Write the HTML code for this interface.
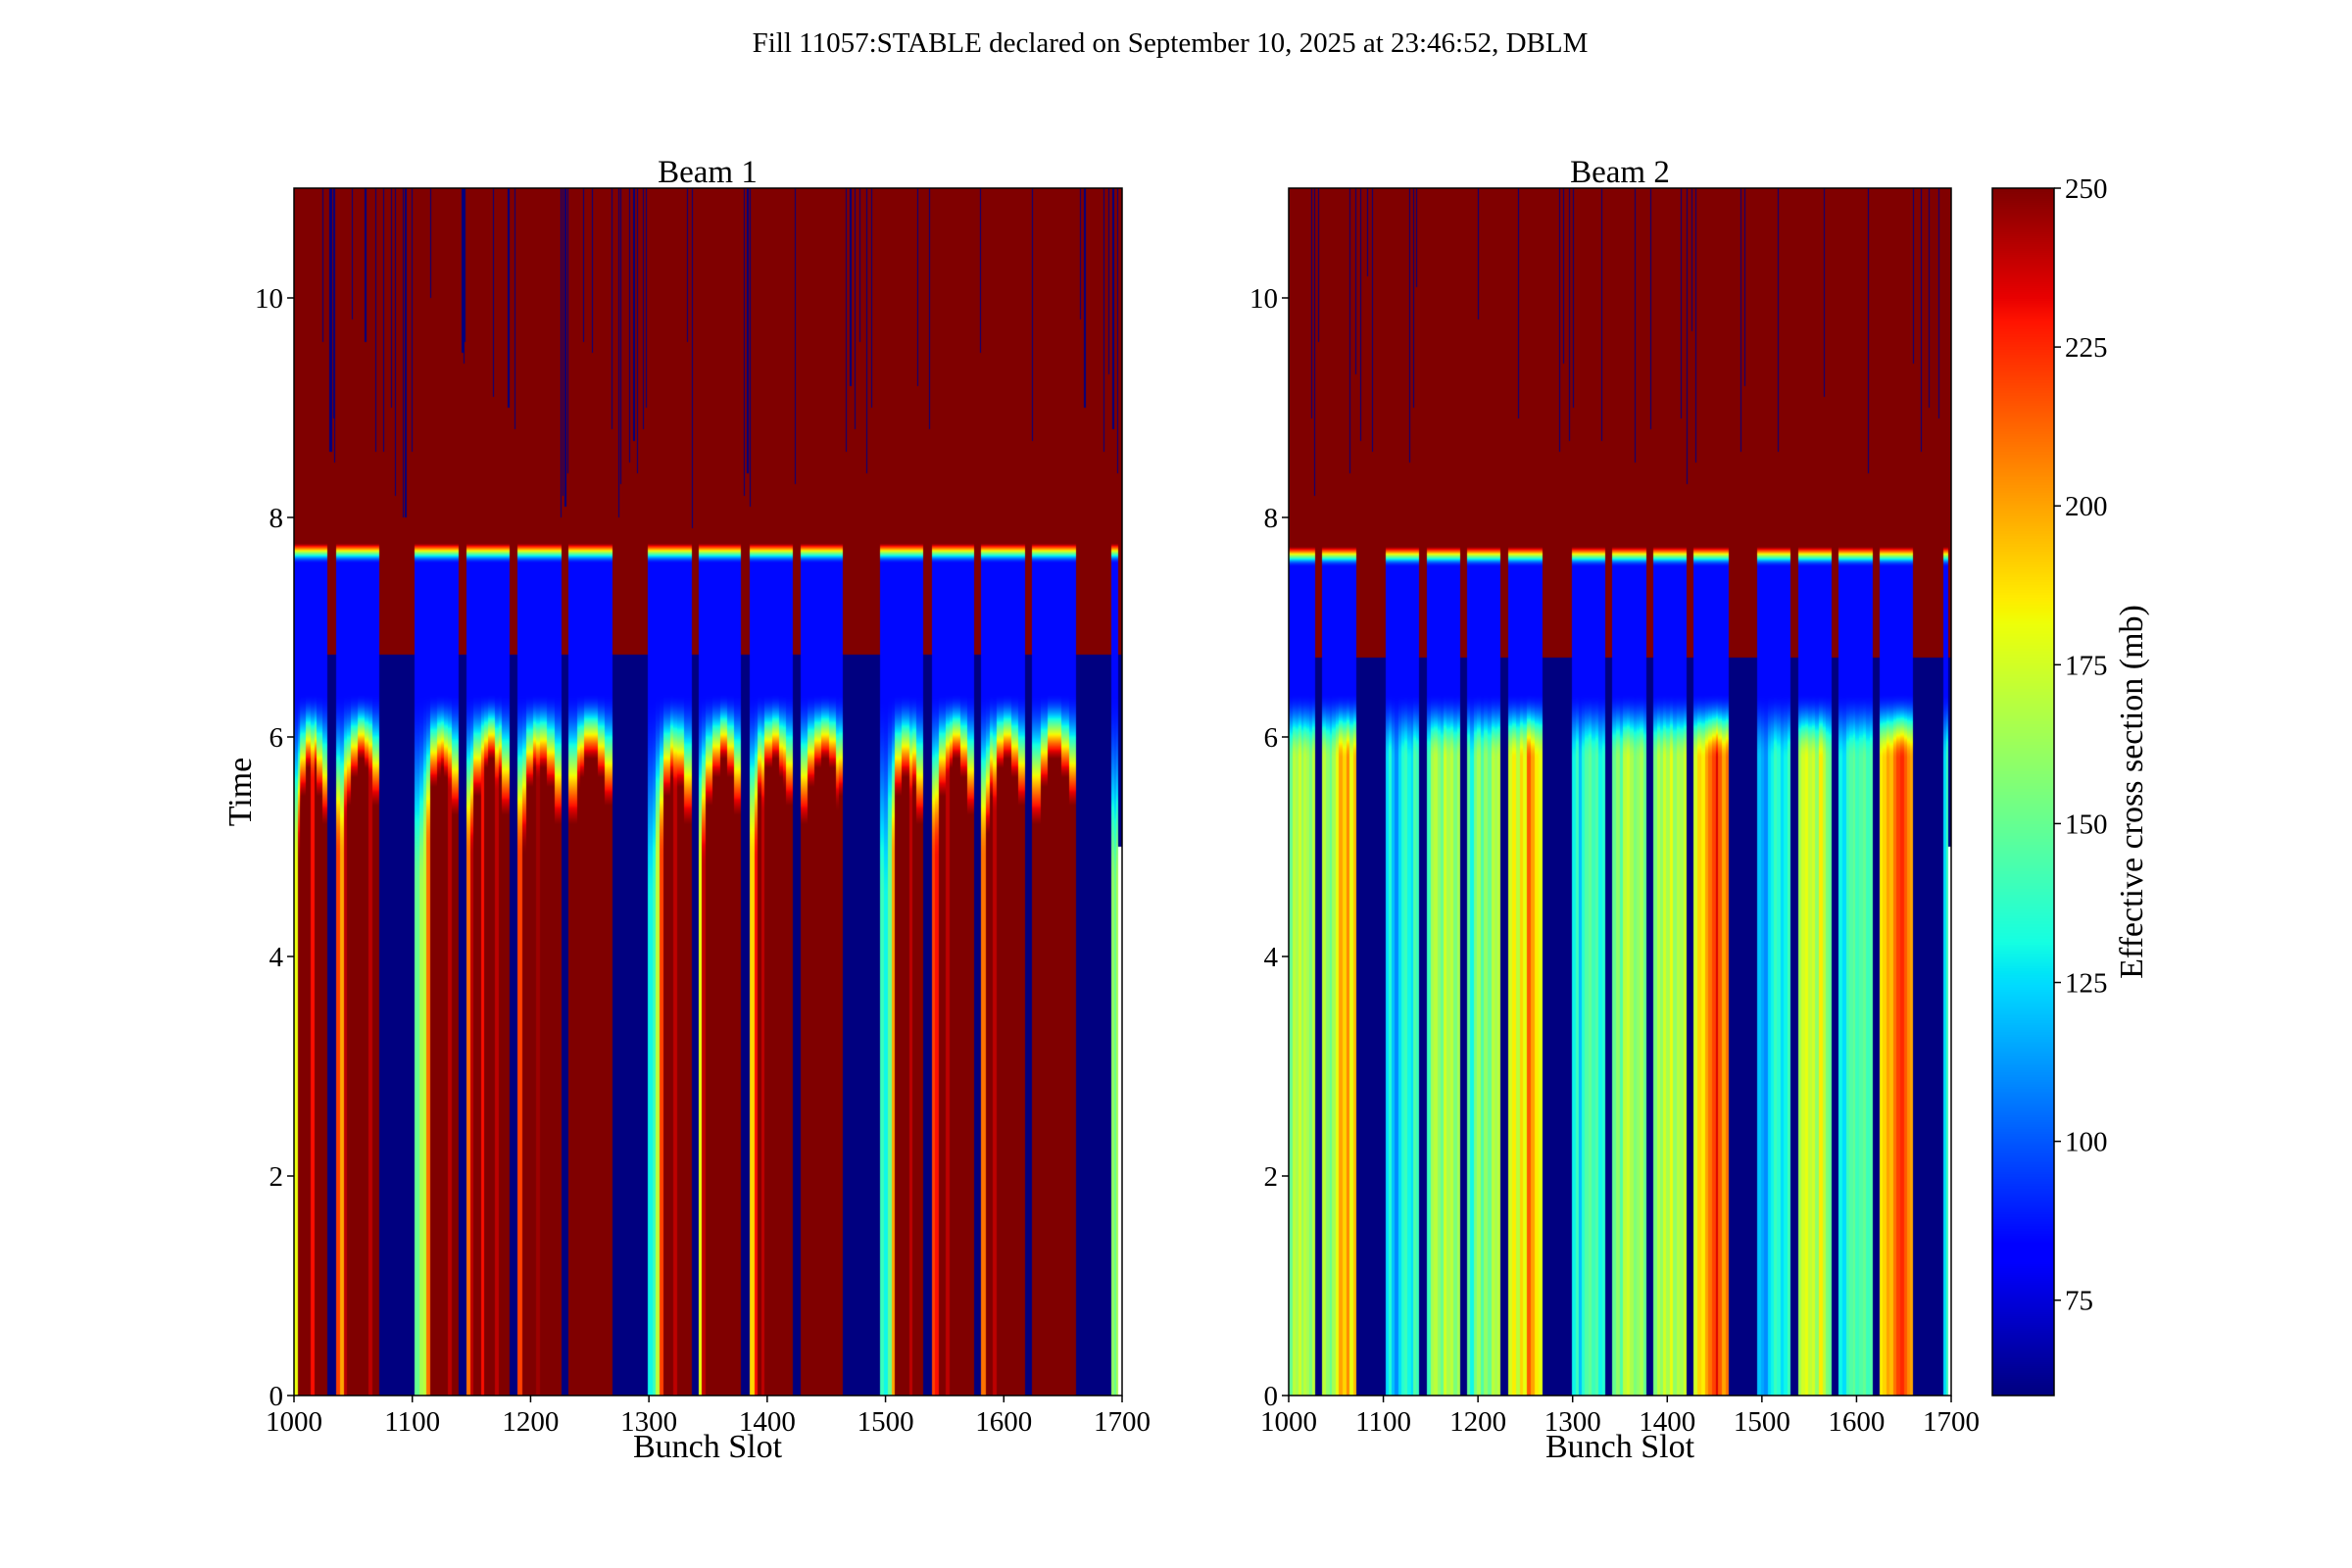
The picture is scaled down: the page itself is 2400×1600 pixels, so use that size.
<!DOCTYPE html>
<html><head><meta charset="utf-8"><style>
html,body{margin:0;padding:0;background:#fff;}
#root{position:relative;width:2400px;height:1600px;overflow:hidden;font-family:"Liberation Serif",serif;}
canvas{position:absolute;}
svg{position:absolute;left:0;top:0;}
</style></head><body>
<div id="root">
<canvas id="c1" style="left:300px;top:192px" width="845" height="1232"></canvas>
<canvas id="c2" style="left:1315px;top:192px" width="676" height="1232"></canvas>
<canvas id="cb" style="left:2033px;top:192px" width="63" height="1232"></canvas>
<svg id="ov" width="2400" height="1600" font-family="Liberation Serif, serif" fill="#000">
<text x="1194" y="53" font-size="29" text-anchor="middle">Fill 11057:STABLE declared on September 10, 2025 at 23:46:52, DBLM</text>
<text x="722" y="186" font-size="33" text-anchor="middle">Beam 1</text>
<text x="1653" y="186" font-size="33" text-anchor="middle">Beam 2</text>
<text x="722" y="1487" font-size="34" text-anchor="middle">Bunch Slot</text>
<text x="1653" y="1487" font-size="34" text-anchor="middle">Bunch Slot</text>
<text x="0" y="0" font-size="34" text-anchor="middle" transform="translate(256,808) rotate(-90)">Time</text>
<text x="0" y="0" font-size="34" text-anchor="middle" transform="translate(2186,808) rotate(-90)">Effective cross section (mb)</text>
</svg>
</div>
<script>
// ---- data ----
const b1TrainStart=[1000,1036,1102,1146,1189,1232,1299,1342,1385,1428,1495,1539,1581,1624,1691];
const b1TrainEnd=[1028,1072,1139,1182,1226,1269,1336,1378,1422,1464,1532,1575,1618,1661,1697];
const b2TrainStart=[1000,1035,1102,1146,1188,1232,1299,1342,1385,1428,1495,1538,1581,1624,1692];
const b2TrainEnd=[1028,1071,1138,1181,1224,1268,1334,1378,1420,1465,1530,1574,1617,1660,1697];
const b1Base=[
[180,250,260,260,260,230,260,260,260,260],
[220,200,240,260,260,260,260,260,260,240,260,260],
[150,165,170,210,260,260,250,260,260,240,260,260],
[210,240,260,260,230,260,260,260,240,260,260,260],
[220,250,260,260,260,245,260,260,260,260,260,260],
[260,260,250,260,260,260,260,260,260,260,260,260],
[130,140,170,220,260,260,260,240,260,260,260,260],
[180,240,260,260,260,260,260,260,260,260,260,260],
[190,230,260,240,260,260,260,260,260,250,260,260],
[260,260,260,260,260,260,260,260,260,260,250,260],
[140,130,150,200,260,260,260,260,240,260,260,260],
[220,230,260,260,240,260,260,260,260,260,260,260],
[210,260,260,240,260,260,260,260,260,260,260,260],
[260,260,260,260,260,260,260,260,260,260,260,260],
[160,150,165]];
const b1Fade=[
[4.8,5.3,5.6,5.6,5.3,5.0],
[4.9,5.2,5.5,5.7,5.6,5.2],
[4.6,5.0,5.4,5.6,5.5,5.1],
[4.9,5.3,5.6,5.7,5.5,5.1],
[4.9,5.4,5.6,5.6,5.4,5.0],
[5.0,5.5,5.7,5.7,5.5,5.2],
[4.5,4.9,5.3,5.5,5.4,5.0],
[4.8,5.2,5.5,5.7,5.5,5.1],
[4.9,5.3,5.6,5.7,5.5,5.2],
[5.0,5.4,5.6,5.7,5.6,5.3],
[4.5,4.9,5.3,5.5,5.4,5.0],
[4.9,5.3,5.6,5.7,5.5,5.1],
[4.9,5.3,5.6,5.7,5.5,5.2],
[5.0,5.4,5.7,5.7,5.5,5.2],
[4.6,4.6]];
const b2Base=[
[150,170,165,175,160,170,165,155,170],
[170,160,150,165,180,200,190,205,180,195],
[125,135,120,110,125,135,140,130,125,145,140],
[140,165,170,160,150,175,165,170,155,165],
[150,130,155,165,145,160,150,170,165,170],
[175,185,170,190,180,215,200,185,180],
[130,140,120,135,145,150,140,145,130,135],
[150,160,145,170,175,165,155,160,165,150],
[155,170,160,175,165,180,160,170,165,175],
[175,190,185,200,210,220,235,215,200,210],
[120,115,110,125,130,140,135,125,130,140],
[165,175,180,170,175,160,185,170,155,150],
[130,125,140,145,150,140,145,150,140,145],
[185,190,200,195,210,220,225,215,205,200],
[125,140]];
const b1SpikeSlots=[1024,1030,1031,1033,1034,1049,1060,1069,1075,1082,1085,1092,1094,1099,1115,1142,1143,1144,1168,1181,1186,1225,1227,1229,1231,1244,1252,1268,1274,1276,1283,1287,1290,1295,1297,1332,1336,1380,1383,1385,1423,1466,1470,1474,1478,1484,1488,1527,1537,1580,1624,1664,1668,1684,1688,1692,1696];
const b1SpikeEnds=[9.6,8.6,8.6,8.9,8.5,9.8,9.6,8.6,8.6,9.0,8.2,8.0,8.0,8.6,10.0,9.5,9.4,9.6,9.1,9.0,8.8,8.0,8.2,8.1,8.4,9.6,9.5,8.8,8.0,8.3,8.5,8.7,8.4,8.8,9.0,9.6,7.9,8.2,8.4,8.1,8.3,8.6,9.2,8.8,9.6,8.4,9.0,9.2,8.8,9.5,8.7,9.8,9.0,8.6,9.3,8.8,8.4];
const b2SpikeSlots=[1024,1027,1031,1064,1070,1076,1083,1088,1127,1132,1135,1200,1242,1286,1290,1296,1300,1330,1366,1382,1414,1420,1426,1430,1477,1482,1517,1565,1612,1660,1668,1676,1687];
const b2SpikeEnds=[8.9,8.2,9.6,8.4,9.3,8.7,10.2,8.6,8.5,9.0,10.1,9.8,8.9,8.6,9.4,8.7,9.0,8.7,8.5,8.8,8.9,8.3,9.7,8.5,8.6,9.2,8.6,9.1,8.4,9.4,8.6,9.0,8.9];
const yTicks=[0,2,4,6,8,10];
const xTicks=[1000,1100,1200,1300,1400,1500,1600,1700];
const cbTicks=[75,100,125,150,175,200,225,250];
const VMIN=60, VMAX=250;

// ---- colormap (jet) ----
function seg(pts,x){for(let i=1;i<pts.length;i++){if(x<=pts[i][0]){const a=pts[i-1],b=pts[i];return a[1]+(b[1]-a[1])*(x-a[0])/(b[0]-a[0]);}}return pts[pts.length-1][1];}
const JR=[[0,0],[0.35,0],[0.66,1],[0.89,1],[1,0.5]];
const JG=[[0,0],[0.125,0],[0.375,1],[0.64,1],[0.91,0],[1,0]];
const JB=[[0,0.5],[0.11,1],[0.34,1],[0.65,0],[1,0]];
function jet(v){let n=(v-VMIN)/(VMAX-VMIN);n=Math.max(0,Math.min(1,n));return [seg(JR,n)*255,seg(JG,n)*255,seg(JB,n)*255];}

// ---- axes ----
const PTOP=192, PBOT=1424, TMAX=11;
function yScale(t){return PBOT-(t/TMAX)*(PBOT-PTOP);}
function xScale(x0,w,s){return x0+(s-1000)*w/700;}
function sm(x){x=Math.max(0,Math.min(1,x));return x*x*(3-2*x);}

function value(beam,s,t){
  const st=beam.starts,en=beam.ends;
  for(let i=0;i<beam.spikes.length;i++){if(beam.spikes[i]===s&&t>beam.spikeEnds[i])return 60;}
  if(s>=1697&&t<5.0)return null;
  let k=-1;for(let i=0;i<st.length;i++){if(s>=st[i]&&s<en[i]){k=i;break;}}
  if(k<0){return t<beam.gapEdge?60:260;}
  const pos=(s-st[k])/(en[k]-st[k]);
  const arr=beam.base[k];const base=arr[Math.min(arr.length-1,Math.floor(pos*arr.length))];
  let fs=beam.fadeConst;
  if(beam.fade){const f=beam.fade[k];fs=f[Math.min(f.length-1,Math.floor(pos*f.length))];}
  const fe=6.4;
  let v;
  if(t<fs)v=base;
  else if(t<fe)v=base+(85-base)*sm((t-fs)/(fe-fs));
  else v=85;
  if(t>beam.topEdge){v=85+(265-85)*sm((t-beam.topEdge)/0.22);}
  return v;
}
function drawHeat(id,w,beam){
  const c=document.getElementById(id),ctx=c.getContext('2d');
  const h=c.height,img=ctx.createImageData(w,h),d=img.data;
  for(let px=0;px<w;px++){
    const s=Math.floor(1000+(px+0.5)*700/w);
    for(let py=0;py<h;py++){
      const t=TMAX-(py+0.5)*TMAX/h;
      const v=value(beam,s,t);const o=(py*w+px)*4;
      if(v===null){d[o]=255;d[o+1]=255;d[o+2]=255;d[o+3]=255;continue;}
      const col=jet(v);d[o]=col[0];d[o+1]=col[1];d[o+2]=col[2];d[o+3]=255;
    }
  }
  ctx.putImageData(img,0,0);
}
drawHeat('c1',845,{starts:b1TrainStart,ends:b1TrainEnd,base:b1Base,fade:b1Fade,fadeConst:5.5,spikes:b1SpikeSlots,spikeEnds:b1SpikeEnds,gapEdge:6.75,topEdge:7.58});
drawHeat('c2',676,{starts:b2TrainStart,ends:b2TrainEnd,base:b2Base,fade:null,fadeConst:5.8,spikes:b2SpikeSlots,spikeEnds:b2SpikeEnds,gapEdge:6.72,topEdge:7.55});

// colorbar
(function(){const c=document.getElementById('cb'),ctx=c.getContext('2d');
for(let py=0;py<c.height;py++){const v=VMAX-(py+0.5)*(VMAX-VMIN)/c.height;const col=jet(v);
ctx.fillStyle='rgb('+col.map(Math.round).join(',')+')';ctx.fillRect(0,py,c.width,1);}})();

// overlay axes
const NS='http://www.w3.org/2000/svg';
const ov=document.getElementById('ov');
function el(tag,attrs){const e=document.createElementNS(NS,tag);for(const k in attrs)e.setAttribute(k,attrs[k]);ov.appendChild(e);return e;}
function axes(x0,w,label){
  const fr=el('rect',{x:x0,y:PTOP,width:w,height:PBOT-PTOP,fill:'none',stroke:'#000','stroke-width':1.5});
  
  
  yTicks.forEach(v=>{const y=yScale(v);
    const l=el('line',{x1:x0-7,x2:x0,y1:y,y2:y,stroke:'#000','stroke-width':1.5});
    
    
    const t=el('text',{x:x0-11,y:y+10,'font-size':29,'text-anchor':'end'});t.textContent=v;
    
    });
  xTicks.forEach(v=>{const x=xScale(x0,w,v);
    const l=el('line',{x1:x,x2:x,y1:PBOT,y2:PBOT+7,stroke:'#000','stroke-width':1.5});
    
    
    const t=el('text',{x:x,y:PBOT+36,'font-size':29,'text-anchor':'middle'});t.textContent=v;
    
    });
}
axes(300,845,'beam1');
axes(1315,676,'beam2');
const cbf=el('rect',{x:2033,y:PTOP,width:63,height:PBOT-PTOP,fill:'none',stroke:'#000','stroke-width':1.5});


cbTicks.forEach(v=>{const y=PBOT-(v-VMIN)/(VMAX-VMIN)*(PBOT-PTOP);
  const l=el('line',{x1:2096,x2:2103,y1:y,y2:y,stroke:'#000','stroke-width':1.5});
  
  
  const t=el('text',{x:2107,y:y+10,'font-size':29});t.textContent=v;
  
  });
</script>
</body></html>
